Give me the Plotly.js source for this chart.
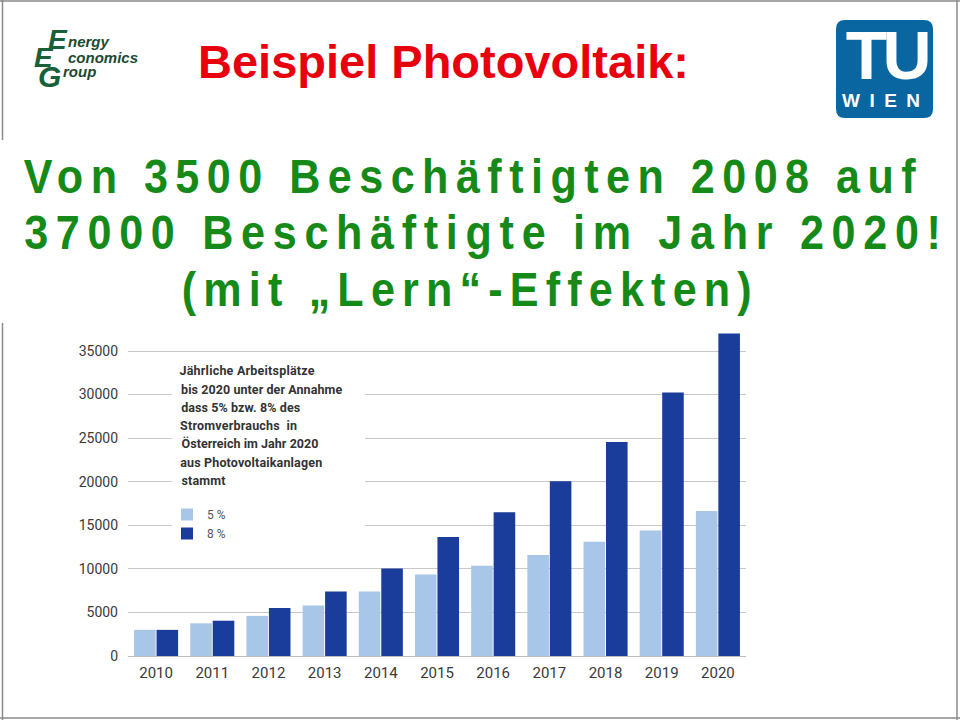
<!DOCTYPE html>
<html><head><meta charset="utf-8">
<script src="https://cdn.plot.ly/plotly-3.0.1.min.js"></script>
<style>body{margin:0;background:#fff}</style>
</head><body><div id="chart" style="width:960px;height:720px"></div>
<script>
// ---- data ----
const years = ['2010','2011','2012','2013','2014','2015','2016','2017','2018','2019','2020'];
const jobs5 = [3000, 3750, 4600, 5800, 7400, 9350, 10350, 11600, 13100, 14400, 16650];
const jobs8 = [3000, 4050, 5500, 7400, 10050, 13650, 16500, 20050, 24550, 30250, 37000];
const seriesNames = ['5 %', '8 %'];
const headline = 'Beispiel Photovoltaik:';
const subLines = ['Von 3500 Beschäftigten 2008 auf', '37000 Beschäftigte im Jahr 2020!', '(mit \u201ELern\u201C-Effekten)'];
const noteLines = ['Jährliche Arbeitsplätze', 'bis 2020 unter der Annahme', 'dass 5% bzw. 8% des', 'Stromverbrauchs  in',
                   'Österreich im Jahr 2020', 'aus Photovoltaikanlagen', 'stammt'];

// ---- geometry helpers (pixel -> paper) ----
const L = 128, R = 746, T = 330, B = 656, W = 960, H = 720;
const px = x => (x - L) / (R - L);
const py = y => (B - y) / (B - T);

const traces = [
  {type:'bar', x: years, y: jobs5, name: seriesNames[0], marker:{color:'#a8c6e8'}, hoverinfo:'x+y'},
  {type:'bar', x: years, y: jobs8, name: seriesNames[1], marker:{color:'#1a3c9b'}, hoverinfo:'x+y'}
];

const ann = [];
const spacing = {}; // index -> {w: target visual width, s: horizontal scale}
function add(a, target, scale){ ann.push(Object.assign({xref:'paper', yref:'paper', showarrow:false}, a)); if(target) spacing[ann.length-1] = {w: target, s: scale || 1}; }

add({x: px(443), y: py(61), xanchor:'center', yanchor:'middle', text:'<b>'+headline+'</b>',
     font:{family:'Liberation Sans, Arial', size:47, color:'#e8000e'}});
const greenY = [176, 232, 289];
const greenX = [474, 486, 470];
const greenW = [892, 917, 570];
subLines.forEach((t,i)=> add({x: px(greenX[i]), y: py(greenY[i]), xanchor:'center', yanchor:'middle', text:'<b>'+t+'</b>',
     font:{family:'Liberation Sans, Arial', size:49, color:'#168a18'}}, greenW[i], 0.88));
// TU Wien logo text
add({x: px(886), y: py(55), xanchor:'center', yanchor:'middle', text:'<b>TU</b>', font:{family:'Liberation Sans, Arial', size:68, color:'#ffffff'}}, 86);
add({x: px(886), y: py(100), xanchor:'center', yanchor:'middle', text:'<b>WIEN</b>', font:{family:'Liberation Sans, Arial', size:19, color:'#ffffff'}}, 78);
// EEG logo
add({x: px(66), y: py(41), xanchor:'left', yanchor:'middle', text:'<b><i>nergy</i></b>', font:{family:'Liberation Sans, Arial', size:15, color:'#1b4a30'}});
add({x: px(66), y: py(57), xanchor:'left', yanchor:'middle', text:'<b><i>conomics</i></b>', font:{family:'Liberation Sans, Arial', size:15, color:'#1b4a30'}});
add({x: px(61), y: py(72), xanchor:'left', yanchor:'middle', text:'<b><i>roup</i></b>', font:{family:'Liberation Sans, Arial', size:15, color:'#1b4a30'}});
add({x: px(58), y: py(39), xanchor:'center', yanchor:'middle', text:'<b><i>E</i></b>', font:{family:'Liberation Sans, Arial', size:28, color:'#17603a'}});
add({x: px(44), y: py(57), xanchor:'center', yanchor:'middle', text:'<b><i>E</i></b>', font:{family:'Liberation Sans, Arial', size:28, color:'#17603a'}});
add({x: px(49), y: py(76), xanchor:'center', yanchor:'middle', text:'<b><i>G</i></b>', font:{family:'Liberation Sans, Arial', size:30, color:'#17603a'}});
// note text
const noteY = [370, 389, 407, 425, 443, 462, 480];
const noteW = [135, 161, 119, 117, 137, 142, 44];
noteLines.forEach((t,i)=> add({x: px(180), y: py(noteY[i]), xanchor:'left', yanchor:'middle', text:'<b>'+t+'</b>',
     font:{family:'Roboto, Liberation Sans', size:12.5, color:'#333333'}}, noteW[i]));

function roundRect(x0,y0,x1,y1,r){
  const X=v=>px(v), Y=v=>py(v);
  return `M ${X(x0+r)},${Y(y0)} L ${X(x1-r)},${Y(y0)} Q ${X(x1)},${Y(y0)} ${X(x1)},${Y(y0+r)} L ${X(x1)},${Y(y1-r)} Q ${X(x1)},${Y(y1)} ${X(x1-r)},${Y(y1)} L ${X(x0+r)},${Y(y1)} Q ${X(x0)},${Y(y1)} ${X(x0)},${Y(y1-r)} L ${X(x0)},${Y(y0+r)} Q ${X(x0)},${Y(y0)} ${X(x0+r)},${Y(y0)} Z`;
}
const border = {color:'#8a8a8a', width:1.5};
const shapes = [
  {type:'rect', xref:'paper', yref:'paper', x0:px(172), x1:px(365), y0:py(546), y1:py(357), fillcolor:'#ffffff', line:{width:0}, layer:'above'},
  {type:'path', xref:'paper', yref:'paper', path: roundRect(836,20,933,118,9), fillcolor:'#0a66a0', line:{width:0}},
  {type:'line', xref:'paper', yref:'paper', x0:px(0), x1:px(960), y0:py(1), y1:py(1), line:border},
  {type:'line', xref:'paper', yref:'paper', x0:px(0), x1:px(960), y0:py(718), y1:py(718), line:border},
  {type:'line', xref:'paper', yref:'paper', x0:px(957), x1:px(957), y0:py(0), y1:py(720), line:border},
  {type:'line', xref:'paper', yref:'paper', x0:px(2.5), x1:px(2.5), y0:py(0), y1:py(140), line:border},
  {type:'line', xref:'paper', yref:'paper', x0:px(2.5), x1:px(2.5), y0:py(323), y1:py(720), line:border}
];

const layout = {
  width: W, height: H,
  margin: {l: L, r: W - R, t: T, b: H - B, pad: 0},
  paper_bgcolor:'#ffffff', plot_bgcolor:'#ffffff',
  barmode:'group', bargap:0.2, bargroupgap:0.04,
  showlegend:true,
  legend:{x: px(167), y: py(500), xanchor:'left', yanchor:'top', bgcolor:'rgba(0,0,0,0)',
          font:{family:'Roboto, Liberation Sans', size:12, color:'#555555'}, tracegroupgap:0, itemclick:false},
  xaxis:{type:'category', showgrid:false, zeroline:false, showline:true, linecolor:'#bdbdbd', linewidth:1,
         ticks:'', ticklabelstandoff:3, tickfont:{family:'Roboto, Liberation Sans', size:15, color:'#3a3a3a'}, fixedrange:true},
  yaxis:{range:[0, 37410], tick0:0, dtick:5000, tickformat:'d', showgrid:true, gridcolor:'#c8c8c8', gridwidth:1, zeroline:false,
         ticks:'', ticklabelstandoff:9, tickfont:{family:'Roboto, Liberation Sans', size:14, color:'#3a3a3a'}, fixedrange:true},
  annotations: ann,
  shapes: shapes
};

Plotly.newPlot('chart', traces, layout, {displayModeBar:false, staticPlot:true}).then(gd => {
  document.querySelectorAll('g.annotation').forEach(g => {
    const idx = g.getAttribute('data-index');
    const sp = spacing[idx];
    if (sp !== undefined) {
      const t = g.querySelector('text');
      if (!t) return;
      const n = t.textContent.length;
      const len = t.getComputedTextLength();
      const s = sp.s;
      const ls = (sp.w / s - len) / Math.max(1, n - 1);
      t.style.letterSpacing = ls.toFixed(2) + 'px';
      if (s !== 1) {
        const cx = parseFloat(t.getAttribute('x')) || 0;
        t.setAttribute('transform', `translate(${(cx * (1 - s)).toFixed(2)},0) scale(${s},1)`);
      }
    }
  });
});
</script></body></html>
